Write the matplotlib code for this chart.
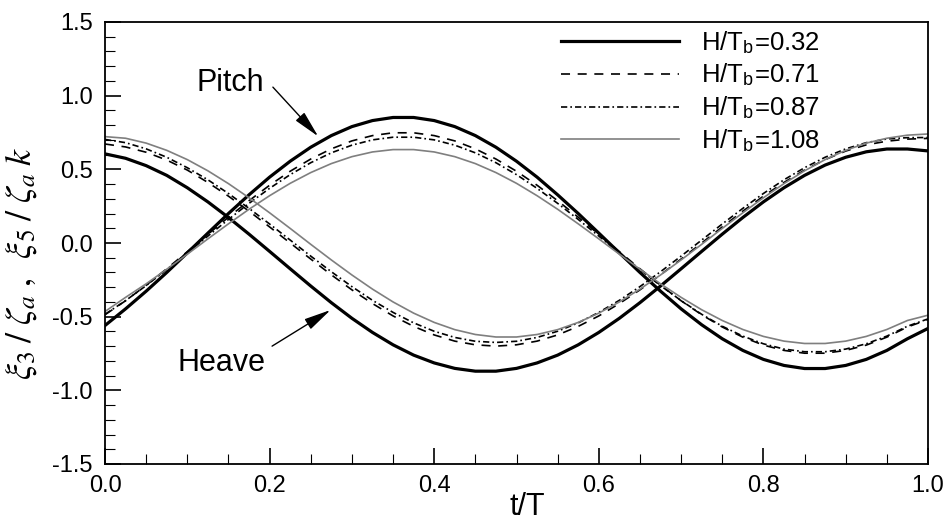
import numpy as np
import matplotlib
matplotlib.use("Agg")
import matplotlib.pyplot as plt
from matplotlib.ticker import MultipleLocator

plt.rcParams['font.family'] = ['Liberation Sans', 'DejaVu Sans']
plt.rcParams['mathtext.fontset'] = 'stix'
plt.rcParams['lines.scale_dashes'] = False

# ---- data, t/T from 0 to 1 in steps of 0.025 ----
t = [round(0.025 * i, 3) for i in range(41)]

labels = ['H/T$_\\mathregular{b}$=0.32', 'H/T$_\\mathregular{b}$=0.71',
          'H/T$_\\mathregular{b}$=0.87', 'H/T$_\\mathregular{b}$=1.08']

# heave  xi3/zeta_a
heave_032 = [0.605, 0.575, 0.525, 0.459, 0.375, 0.279, 0.173, 0.060, -0.057, -0.175,
             -0.292, -0.405, -0.511, -0.607, -0.691, -0.761, -0.814, -0.851, -0.870, -0.870,
             -0.851, -0.814, -0.761, -0.691, -0.607, -0.511, -0.405, -0.292, -0.175, -0.057,
             0.060, 0.173, 0.279, 0.375, 0.459, 0.529, 0.582, 0.619, 0.638, 0.638, 0.625]
heave_071 = [0.672, 0.652, 0.616, 0.563, 0.495, 0.411, 0.318, 0.216, 0.109, 0.000,
             -0.109, -0.216, -0.318, -0.411, -0.495, -0.566, -0.624, -0.666, -0.691, -0.700,
             -0.691, -0.666, -0.624, -0.566, -0.495, -0.411, -0.318, -0.216, -0.109, 0.000,
             0.109, 0.216, 0.318, 0.411, 0.495, 0.566, 0.624, 0.666, 0.691, 0.705, 0.710]
heave_087 = [0.703, 0.681, 0.639, 0.582, 0.511, 0.429, 0.336, 0.235, 0.129, 0.020,
             -0.089, -0.195, -0.296, -0.389, -0.471, -0.542, -0.599, -0.641, -0.667, -0.675,
             -0.667, -0.641, -0.599, -0.542, -0.471, -0.389, -0.296, -0.195, -0.089, 0.020,
             0.129, 0.235, 0.336, 0.429, 0.511, 0.582, 0.639, 0.681, 0.706, 0.715, 0.716]
heave_108 = [0.722, 0.711, 0.678, 0.629, 0.566, 0.490, 0.403, 0.307, 0.205, 0.099,
             -0.009, -0.115, -0.217, -0.313, -0.400, -0.476, -0.539, -0.588, -0.621, -0.638,
             -0.638, -0.621, -0.588, -0.539, -0.476, -0.400, -0.313, -0.217, -0.115, -0.009,
             0.099, 0.205, 0.307, 0.403, 0.490, 0.566, 0.629, 0.678, 0.711, 0.732, 0.740]

# pitch  xi5/(zeta_a k)
pitch_032 = [-0.560, -0.447, -0.327, -0.200, -0.067, 0.067, 0.200, 0.327, 0.447, 0.555,
             0.650, 0.729, 0.790, 0.831, 0.852, 0.852, 0.831, 0.790, 0.729, 0.650,
             0.555, 0.447, 0.327, 0.200, 0.067, -0.067, -0.200, -0.327, -0.447, -0.555,
             -0.650, -0.729, -0.790, -0.831, -0.852, -0.852, -0.831, -0.790, -0.729, -0.650, -0.580]
pitch_071 = [-0.487, -0.392, -0.287, -0.175, -0.059, 0.059, 0.175, 0.287, 0.392, 0.487,
             0.570, 0.639, 0.693, 0.729, 0.748, 0.748, 0.729, 0.693, 0.639, 0.570,
             0.487, 0.392, 0.287, 0.175, 0.059, -0.059, -0.175, -0.287, -0.392, -0.487,
             -0.570, -0.639, -0.693, -0.729, -0.748, -0.748, -0.729, -0.693, -0.639, -0.570, -0.520]
pitch_087 = [-0.484, -0.391, -0.289, -0.180, -0.067, 0.047, 0.160, 0.269, 0.371, 0.464,
             0.545, 0.612, 0.664, 0.700, 0.718, 0.718, 0.700, 0.664, 0.612, 0.545,
             0.464, 0.371, 0.269, 0.160, 0.047, -0.067, -0.180, -0.289, -0.391, -0.484,
             -0.565, -0.632, -0.684, -0.720, -0.738, -0.738, -0.720, -0.684, -0.632, -0.565, -0.515]
pitch_108 = [-0.465, -0.369, -0.277, -0.178, -0.076, 0.028, 0.130, 0.229, 0.321, 0.405,
             0.478, 0.539, 0.586, 0.618, 0.634, 0.634, 0.618, 0.586, 0.539, 0.478,
             0.405, 0.321, 0.229, 0.130, 0.028, -0.076, -0.178, -0.277, -0.369, -0.453,
             -0.526, -0.587, -0.634, -0.666, -0.682, -0.682, -0.666, -0.634, -0.587, -0.526, -0.490]

heave = [heave_032, heave_071, heave_087, heave_108]
pitch = [pitch_032, pitch_071, pitch_087, pitch_108]

xticks = [0.0, 0.2, 0.4, 0.6, 0.8, 1.0]
yticks = [-1.5, -1.0, -0.5, 0.0, 0.5, 1.0, 1.5]

styles = [
    dict(color='black', lw=2.3, linestyle='-'),
    dict(color='black', lw=1.2, linestyle=(0, (6.5, 5.5))),
    dict(color='black', lw=1.2, linestyle=(0, (4.5, 2.2, 1.2, 2.2))),
    dict(color='#7f7f7f', lw=1.2, linestyle='-'),
]

fig = plt.figure(figsize=(9.52, 5.25), dpi=100)
ax = fig.add_axes([105 / 952, 1 - 464 / 525, 823 / 952, 442 / 525])

for k in range(4):
    ax.plot(t, pitch[k], label=labels[k], **styles[k])
    ax.plot(t, heave[k], **styles[k])

ax.set_xlim(0, 1)
ax.set_ylim(-1.5, 1.5)
ax.set_xticks(xticks)
ax.set_yticks(yticks)
ax.set_xticklabels([f'{v:.1f}' for v in xticks])
ax.set_yticklabels([f'{v:.1f}' for v in yticks])
ax.xaxis.set_minor_locator(MultipleLocator(0.05))
ax.yaxis.set_minor_locator(MultipleLocator(0.1))
ax.tick_params(which='both', direction='in', top=False, right=False, labelsize=17)
ax.tick_params(which='major', length=11.5, width=1.2)
ax.tick_params(which='minor', length=7.0, width=0.8)
ax.tick_params(axis='x', pad=8)
ax.tick_params(axis='y', pad=9)
for s in ax.spines.values():
    s.set_linewidth(1.3)

fig.text(527 / 952, 1 - 507 / 525, 't/T', fontsize=22, ha='center', va='center')
fig.text(21 / 952, 1 - 263 / 525,
         r'$\xi_3\;/\;\zeta_a\;,\;\;\xi_5\;/\;\zeta_a\;k$',
         rotation=90, ha='center', va='center', fontsize=26)

leg = ax.legend(loc='upper left', bbox_to_anchor=(561 / 952, 1 - 29 / 525),
                bbox_transform=fig.transFigure, frameon=False, fontsize=18.5,
                handlelength=4.6, handletextpad=0.85, labelspacing=0.24,
                borderpad=0, borderaxespad=0)

arrow = dict(arrowstyle='-|>,head_length=1.65,head_width=0.36', color='black',
             lw=1.0, shrinkA=0, shrinkB=0, mutation_scale=10)
ax.text(0.152, 1.03, 'Pitch', fontsize=22, ha='center', va='baseline')
ax.annotate('', xy=(0.259, 0.724), xytext=(0.204, 1.058), arrowprops=arrow)
ax.text(0.141, -0.867, 'Heave', fontsize=22, ha='center', va='baseline')
ax.annotate('', xy=(0.274, -0.455), xytext=(0.203, -0.700), arrowprops=arrow)

fig.savefig('out.png', dpi=100)
